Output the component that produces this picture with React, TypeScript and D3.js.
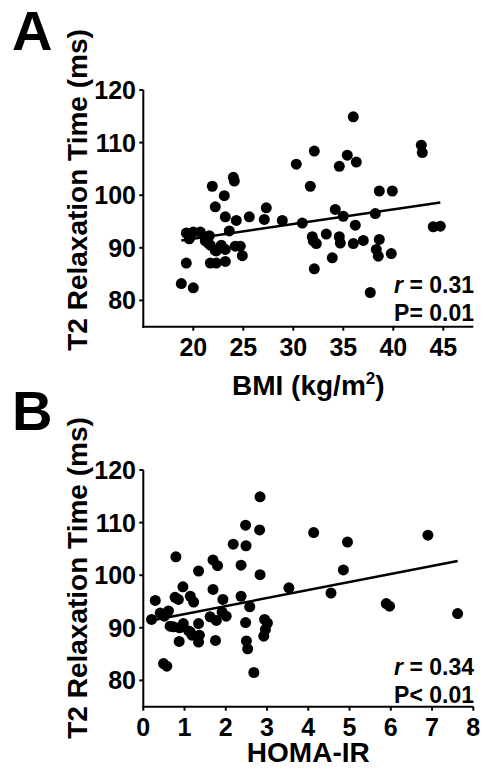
import React from "react"
import * as d3 from "d3"

// Panel A: BMI vs T2 relaxation time
const bmi = [
	18.8, 20.0, 19.3, 19.3, 20.0, 20.7, 19.6, 21.6, 21.2, 21.7, 22.2, 22.8, 23.2,
	21.7, 22.3, 23.2, 23.6, 24.2, 24.7, 24.9, 23.2, 24.3, 25.6, 27.1, 27.3, 28.9,
	30.9, 22.2, 23.1, 21.9, 24.0, 24.1, 30.3, 21.5, 22.3, 36.0, 42.8, 42.9, 32.1,
	35.4, 36.3, 34.6, 31.7, 38.6, 39.9, 34.2, 35.0, 38.2, 36.2, 44.0, 44.7, 31.9,
	32.3, 32.0, 33.3, 34.6, 34.7, 36.0, 37.0, 38.6, 38.3, 38.5, 39.8, 33.9, 32.1,
	37.7,
]
const bmiT2 = [
	83.2, 82.4, 87.1, 92.8, 93.0, 93.0, 91.7, 92.3, 91.3, 90.5, 89.5, 90.5, 89.7,
	87.1, 87.1, 87.4, 93.2, 90.3, 90.3, 88.5, 95.9, 95.2, 95.9, 95.4, 97.6, 95.2,
	94.7, 97.8, 99.9, 101.7, 103.4, 102.7, 105.9, 90.9, 89.4, 114.9, 109.5, 108.1,
	108.4, 107.6, 106.3, 105.5, 101.7, 100.8, 100.8, 97.3, 96.0, 96.5, 94.3, 94.0,
	94.1, 92.1, 90.8, 91.3, 92.6, 92.1, 90.9, 90.8, 91.4, 91.6, 89.7, 88.4, 88.9,
	88.1, 86.0, 81.5,
]
const bmiFitX = [18.8, 44.7]
const bmiFitY = [91.4, 98.6]
const bmiTicks = [20, 25, 30, 35, 40, 45]

// Panel B: HOMA-IR vs T2 relaxation time
const homa = [
	0.2, 0.29, 0.41, 0.51, 0.61, 0.65, 0.73, 0.49, 0.57, 0.79, 0.77, 0.85, 0.96,
	0.87, 0.97, 0.88, 1.14, 1.22, 1.34, 1.1, 1.18, 1.34, 1.36, 1.34, 1.69, 1.8,
	1.69, 1.62, 1.77, 1.75, 1.93, 1.91, 2.01, 2.18, 2.37, 2.37, 2.48, 2.49, 2.58,
	2.48, 2.5, 2.53, 2.68, 2.83, 2.82, 2.83, 2.94, 3.01, 2.96, 2.92, 3.53, 4.13,
	4.55, 4.85, 4.95, 5.89, 5.97, 6.9, 7.62, 1.14,
]
const homaT2 = [
	91.6, 95.2, 92.8, 92.2, 93.2, 90.3, 90.2, 83.2, 82.7, 103.5, 95.8, 95.4, 97.8,
	87.4, 90.8, 90.0, 96.0, 94.9, 100.8, 89.4, 88.6, 90.8, 88.6, 87.3, 102.9,
	101.8, 97.3, 92.1, 91.4, 87.6, 95.4, 93.0, 92.2, 105.9, 101.9, 96.0, 109.5,
	105.6, 94.0, 91.0, 87.5, 86.0, 81.5, 114.9, 108.6, 100.1, 91.6, 90.9, 89.7,
	88.4, 97.6, 108.1, 96.6, 101.0, 106.3, 94.6, 94.1, 107.6, 92.7, 89.2,
]
const homaFitX = [0.2, 7.62]
const homaFitY = [91.4, 102.7]
const homaTicks = [0, 1, 2, 3, 4, 5, 6, 7, 8]

const yTicks = [80, 90, 100, 110, 120]

const FONT = "'Liberation Sans', Arial, sans-serif"

const Panel = ({ letter, top, xs, ys, fitX, fitY, xDomain, xTicks, xTitle, titleGap, rText, pText, rGap, pGap, titleY }) => {
	const left = 143.3
	const x = d3.scaleLinear().domain(xDomain).range([left, 473.3])
	const y = d3.scaleLinear().domain([75, 120]).range([top + 236.7, top])
	const bottom = y(75)
	const line = d3.line<number>()
		.x(d => x(d))
		.y((_, i) => y(fitY[i]))

	return (
		<g fontFamily={FONT} fontWeight="bold" fill="#000">
			<text x={12} y={top - 40} fontSize={56}>{letter}</text>
			{/* y axis */}
			<line x1={left} x2={left} y1={top} y2={bottom + 1} stroke="#000" strokeWidth={2} />
			{yTicks.map(t => (
				<g key={t}>
					<line x1={left - 4} x2={left} y1={y(t)} y2={y(t)} stroke="#000" strokeWidth={2} />
					<text x={136} y={y(t)} dy="0.36em" textAnchor="end" fontSize={25}>{t}</text>
				</g>
			))}
			<text
				transform={`translate(87,${titleY}) rotate(-90)`}
				textAnchor="middle"
				fontSize={28}
			>
				T2 Relaxation Time (ms)
			</text>
			{/* x axis */}
			<line x1={left - 1} x2={x(xDomain[1])} y1={bottom} y2={bottom} stroke="#000" strokeWidth={2} />
			{xTicks.map(t => (
				<g key={t}>
					<line x1={x(t)} x2={x(t)} y1={bottom} y2={bottom + 4} stroke="#000" strokeWidth={2} />
					<text x={x(t)} y={bottom + 29} textAnchor="middle" fontSize={25}>{t}</text>
				</g>
			))}
			<text x={308.3} y={bottom + titleGap} textAnchor="middle" fontSize={28}>{xTitle}</text>
			{/* points */}
			{xs.map((v, i) => (
				<circle key={i} cx={x(v)} cy={y(ys[i])} r={5.5} fill="#000" />
			))}
			<path d={line(fitX) || ""} fill="none" stroke="#000" strokeWidth={2.5} />
			<text x={474} y={bottom - rGap} textAnchor="end" fontSize={23}>
				<tspan fontStyle="italic">r</tspan> = {rText}
			</text>
			<text x={474} y={bottom - pGap} textAnchor="end" fontSize={23}>{pText}</text>
		</g>
	)
}

export default function App() {
	return (
		<svg width={484} height={777} style={{ position: "absolute", left: 0, top: 0 }}>
			<rect width={484} height={777} fill="#fff" />
			<Panel
				letter="A"
				top={90}
				xs={bmi}
				ys={bmiT2}
				fitX={bmiFitX}
				fitY={bmiFitY}
				xDomain={[15, 48]}
				xTicks={bmiTicks}
				xTitle={<>BMI (kg/m<tspan fontSize={17} dy={-11}>2</tspan><tspan dy={11}>)</tspan></>}
				titleGap={68}
				rText="0.31"
				pText="P= 0.01"
				rGap={34}
				pGap={6}
				titleY={190}
			/>
			<Panel
				letter="B"
				top={470}
				xs={homa}
				ys={homaT2}
				fitX={homaFitX}
				fitY={homaFitY}
				xDomain={[0, 8]}
				xTicks={homaTicks}
				xTitle="HOMA-IR"
				titleGap={55}
				rText="0.34"
				pText="P< 0.01"
				rGap={32}
				pGap={4}
				titleY={578}
			/>
		</svg>
	)
}
